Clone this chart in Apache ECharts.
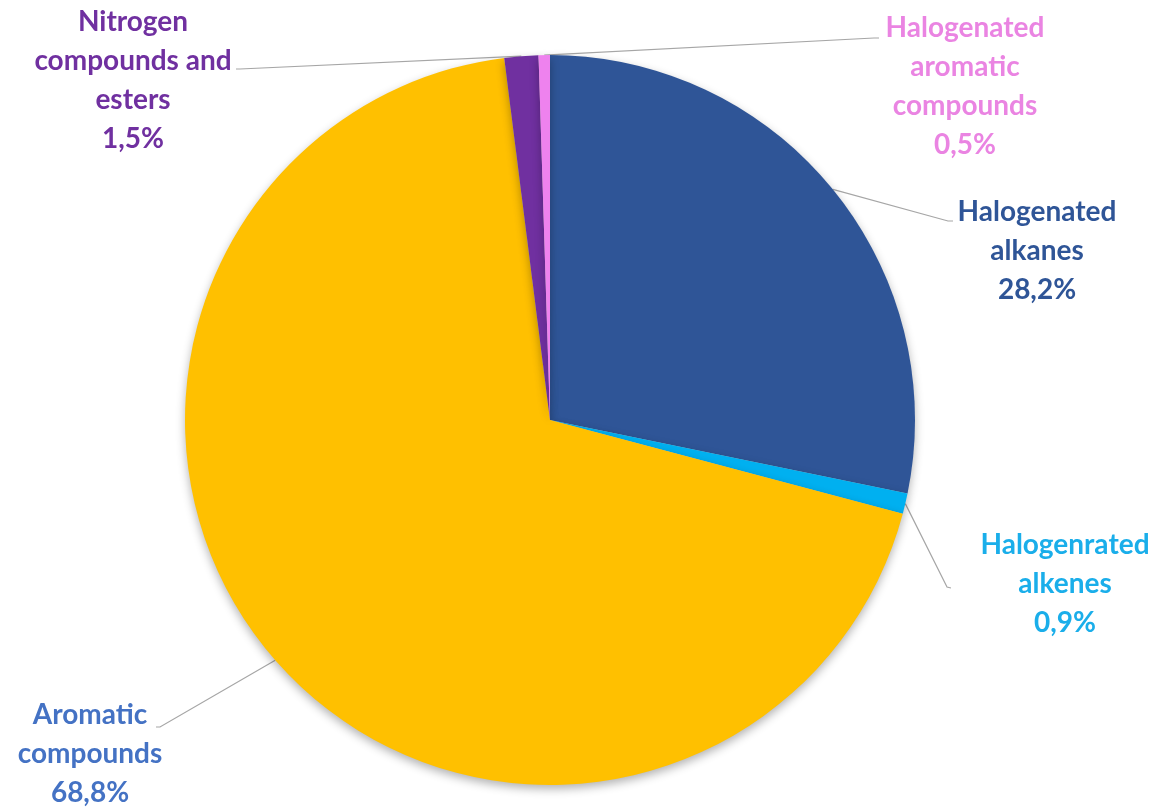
<!DOCTYPE html>
<html>
<head>
<meta charset="utf-8">
<script src="https://cdn.jsdelivr.net/npm/echarts@6/dist/echarts.min.js"></script>
<style>
html,body{margin:0;padding:0;background:#fff;}
#chart{width:1157px;height:809px;}
</style>
</head>
<body>
<div id="chart"></div>
<script>
// ---- data ----
const categories = ['Halogenated alkanes', 'Halogenrated alkenes', 'Aromatic compounds', 'Nitrogen compounds and esters', 'Halogenated aromatic compounds'];
const values = [28.2, 0.9, 68.8, 1.5, 0.5];
const labelTexts = ['Halogenated\nalkanes', 'Halogenrated\nalkenes', 'Aromatic\ncompounds', 'Nitrogen\ncompounds and\nesters', 'Halogenated\naromatic\ncompounds'];

// ---- styles ----
const sliceColors = ['#2F5597', '#00B0F0', '#FFC000', '#7030A0', '#EE82EE'];
const labelColors = ['#2F5597', '#1AAEEA', '#4472C4', '#7030A0', '#EA84E2'];
const labelPlace = [
  {x: 1037, y: 192, l1: [948, 221], l2: [953, 221]},
  {x: 1065, y: 525, l1: [947, 587], l2: [951, 588]},
  {x: 90,   y: 695, l1: [160, 727], l2: [156, 727]},
  {x: 133,  y: 2,   l1: [240, 69],  l2: [236, 69]},
  {x: 965,  y: 8,   l1: [874, 38],  l2: [879, 38]}
];

const chart = echarts.init(document.getElementById('chart'), null, {renderer: 'canvas'});
const data = categories.map((c, i) => ({
  name: c,
  value: values[i],
  itemStyle: {color: sliceColors[i]},
  label: {color: labelColors[i]}
}));

const CX = 550, CY = 420, R = 365;

chart.setOption({
  animation: false,
  backgroundColor: '#ffffff',
  series: [{
    type: 'pie',
    center: [CX, CY],
    radius: R,
    startAngle: 90,
    clockwise: true,
    avoidLabelOverlap: false,
    itemStyle: {
      borderWidth: 0,
      shadowBlur: 10,
      shadowOffsetY: 4,
      shadowColor: 'rgba(0,0,0,0.3)'
    },
    label: {
      show: true,
      position: 'outside',
      fontFamily: 'Lato',
      fontWeight: 'bold',
      fontSize: 28,
      lineHeight: 39,
      align: 'center',
      formatter: function (p) {
        return labelTexts[p.dataIndex] + '\n' + p.value.toFixed(1).replace('.', ',') + '%';
      }
    },
    labelLine: {
      show: true,
      length: 20,
      length2: 20,
      smooth: false,
      lineStyle: {color: '#A6A6A6', width: 1.2}
    },
    labelLayout: function (params) {
      const i = params.dataIndex;
      const L = labelPlace[i];
      let p0;
      if (params.labelLinePoints && params.labelLinePoints[0]) {
        p0 = params.labelLinePoints[0];
      } else {
        p0 = [CX, CY];
      }
      return {
        x: L.x,
        y: L.y,
        align: 'center',
        verticalAlign: 'top',
        labelLinePoints: [p0, L.l1, L.l2]
      };
    },
    emphasis: {disabled: true},
    data: data
  }]
});
</script>
</body>
</html>
